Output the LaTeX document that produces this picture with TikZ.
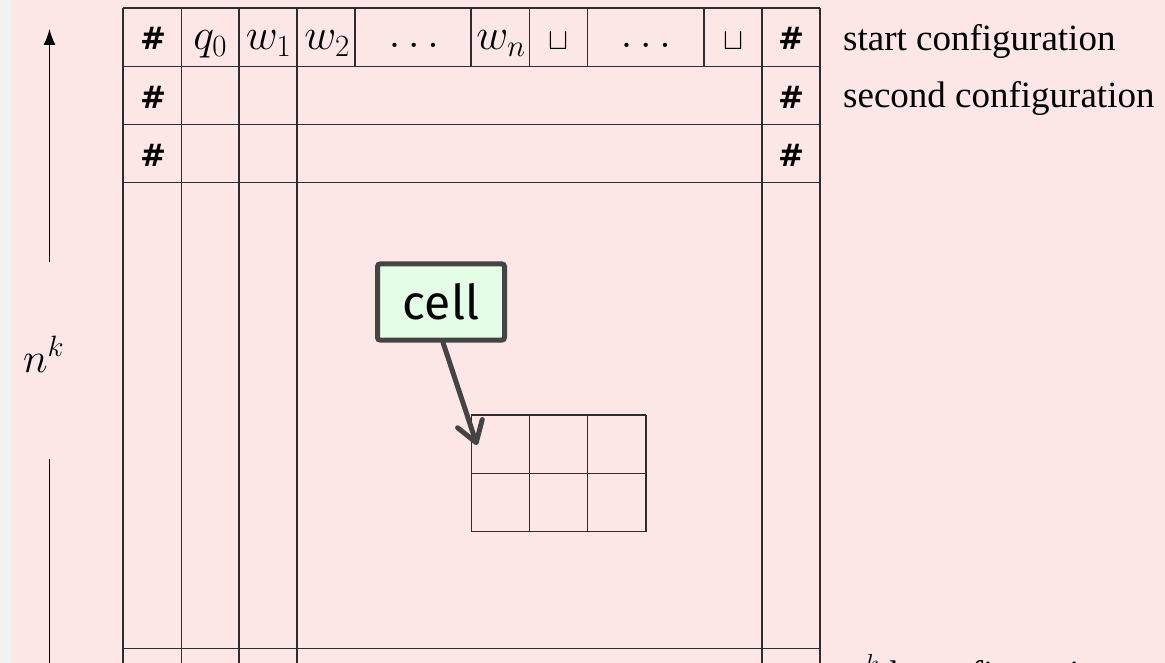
\RequirePackage{fix-cm}
\documentclass[tikz,border=0pt]{standalone}
\usepackage{fontspec}
\usetikzlibrary{arrows.meta}
\newfontfamily\labelfont{Liberation Serif}
\newfontfamily\hashfont{DejaVu Sans}
\newfontfamily\cellfont{Fira Sans}
\definecolor{bgpink}{RGB}{253,230,230}
\definecolor{bggray}{RGB}{242,242,242}
\definecolor{cellgreen}{RGB}{228,253,230}
\definecolor{darkline}{RGB}{68,68,68}
\begin{document}
\begin{tikzpicture}[x=1pt,y=-1pt,
  gridline/.style={line width=1.5pt, draw=black!82},
  smallgrid/.style={line width=1.2pt, draw=black!82},
  hashsym/.style={font=\hashfont\bfseries\fontsize{31}{36}\selectfont, anchor=base, inner sep=0},
  mathsym/.style={font=\fontsize{44}{50}\selectfont, anchor=base, inner sep=0},
  blanksym/.style={font=\fontsize{30}{36}\selectfont, anchor=base, inner sep=0},
  conflabel/.style={font=\labelfont\fontsize{37}{44}\selectfont, anchor=base west, inner sep=0},
  cellbox/.style={draw=darkline, fill=cellgreen, line width=5pt, rounded corners=2.5pt,
    minimum width=127pt, minimum height=76pt, inner sep=0,
    font=\cellfont\fontsize{48}{56}\selectfont},
  cellarrow/.style={draw=darkline, line width=5pt, line cap=round,
    -{Straight Barb[length=20pt,width=26pt,line cap=round,round]}},
  sidearrow/.style={line width=1.4pt, draw=black, -{Latex[length=16pt,width=12pt]}}
]
\useasboundingbox (0,0) rectangle (1165,663);
\fill[bggray] (0,0) rectangle (1165,663);
\fill[bgpink] (11,0) rectangle (1165,663);

% main tableau grid
\foreach \y in {8,66.5,124.4,182.4,648.3}
  \draw[gridline] (122.8,\y) -- (820.1,\y);
\foreach \x in {122.8,181.5,238.8,296.8,761.9,820.1}
  \draw[gridline] (\x,8) -- (\x,675);
\foreach \x in {355,471.2,529.4,587.7,704.2}
  \draw[gridline] (\x,8) -- (\x,66.5);

% small window grid
\foreach \y in {415,473.3,531.7}
  \draw[smallgrid] (471.2,\y) -- (646,\y);
\foreach \x in {471.2,529.4,587.7,646}
  \draw[smallgrid] (\x,415) -- (\x,531.7);

% first row contents
\node[hashsym] (h1l) at (153,50) {\#};
\node[mathsym] (q0) at (210.2,50) {$q_0$};
\node[mathsym] (w1) at (268.5,50) {$w_1$};
\node[mathsym] (w2) at (327,50) {$w_2$};
\node[mathsym] (d1) at (414,48) {$\ldots$};
\node[mathsym] (wn) at (501,50) {$w_n$};
\node[blanksym] (b1) at (558.5,50) {$\sqcup$};
\node[mathsym] (d2) at (646,48) {$\ldots$};
\node[blanksym] (b2) at (733,50) {$\sqcup$};
\node[hashsym] (h1r) at (791,50) {\#};
% second and third rows
\node[hashsym] (h2l) at (153,108.2) {\#};
\node[hashsym] (h2r) at (791,108.2) {\#};
\node[hashsym] (h3l) at (153,166.3) {\#};
\node[hashsym] (h3r) at (791,166.3) {\#};

% configuration labels
\node[conflabel] (start) at (843,51) {start configuration};
\node[conflabel] (second) at (843,107.5) {second configuration};
\node[conflabel] (last) at (843,686) {$n^k$th configuration};

% left n^k arrow
\coordinate (atop) at (49.5,29);
\coordinate (abot) at (49.5,262);
\coordinate (btop) at (49.5,459);
\coordinate (bbot) at (49.5,675);
\draw[sidearrow] (abot) -- (atop);
\draw[line width=1.4pt] (btop) -- (bbot);
\node[font=\fontsize{42}{50}\selectfont, anchor=base west, inner sep=0] (nk) at (23,372) {$n^k$};

% cell callout
\node[cellbox] (cellbox) at (441,302) {cell};
\coordinate (celltip) at (477,445);
\draw[cellarrow] ([xshift=2pt]cellbox.south) -- (celltip);
\end{tikzpicture}
\end{document}
